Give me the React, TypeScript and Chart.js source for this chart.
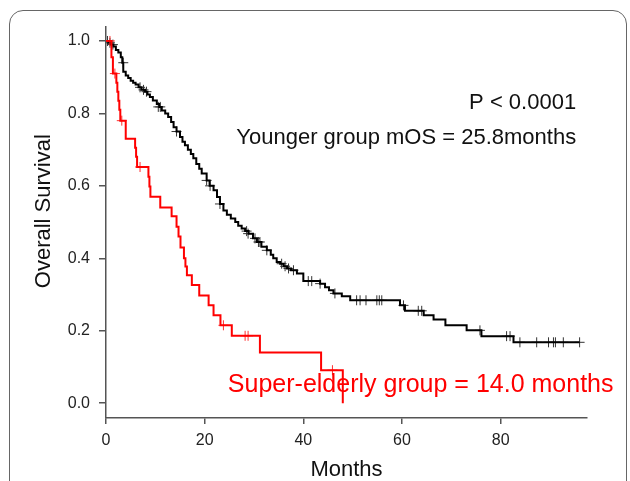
import React, { useEffect, useRef } from "react";
import { Chart, registerables } from "chart.js";

Chart.register(...registerables);

// Younger group Kaplan–Meier steps (months, survival after step)
const youngerMonths = [0, 0.5, 1.0, 1.5, 2.0, 2.5, 3.0, 3.3, 3.5, 4.0, 4.5, 5.0, 5.5, 6.0, 6.6, 7.2, 7.9, 8.4, 8.9, 9.5, 10.3, 10.8, 11.3, 12.0, 12.6, 13.2, 13.7, 14.3, 15.0, 15.5, 16.0, 16.6, 17.2, 17.7, 18.3, 18.9, 19.4, 20.4, 21.0, 21.8, 22.5, 23.1, 23.8, 24.5, 25.3, 26.2, 26.8, 27.5, 28.2, 28.9, 29.8, 30.6, 31.5, 32.6, 33.4, 33.9, 34.6, 35.3, 36.0, 36.7, 37.5, 38.7, 40.0, 43.4, 44.4, 45.2, 46.1, 47.8, 49.5, 59.6, 60.6, 64.4, 66.4, 68.8, 73.1, 76.1, 82.6, 96.0];
const youngerSurv = [1.0, 0.995, 0.99, 0.985, 0.975, 0.968, 0.955, 0.94, 0.915, 0.905, 0.898, 0.89, 0.885, 0.88, 0.872, 0.865, 0.86, 0.852, 0.845, 0.836, 0.826, 0.818, 0.808, 0.8, 0.79, 0.776, 0.762, 0.75, 0.735, 0.722, 0.712, 0.7, 0.688, 0.676, 0.66, 0.647, 0.634, 0.615, 0.6, 0.588, 0.569, 0.55, 0.532, 0.52, 0.51, 0.5, 0.49, 0.482, 0.475, 0.468, 0.455, 0.445, 0.432, 0.422, 0.41, 0.4, 0.39, 0.385, 0.378, 0.372, 0.367, 0.358, 0.337, 0.33, 0.32, 0.312, 0.303, 0.295, 0.284, 0.27, 0.255, 0.243, 0.231, 0.215, 0.201, 0.185, 0.168, 0.168];

// Younger group censor marks
const youngerCensorMonths = [0.3, 0.8, 1.4, 3.5, 6.9, 7.6, 8.2, 10.6, 11.0, 14.3, 20.4, 21.1, 23.1, 28.5, 28.8, 30.2, 30.9, 31.2, 32.6, 35.6, 36.3, 37.0, 38.0, 41.0, 41.7, 43.4, 46.4, 50.8, 51.5, 52.7, 54.9, 55.4, 55.9, 60.3, 63.3, 64.0, 75.8, 81.2, 81.9, 83.9, 87.3, 89.7, 90.7, 91.1, 92.7, 96.0];
const youngerCensorSurv = [1.0, 0.995, 0.99, 0.94, 0.872, 0.865, 0.86, 0.818, 0.818, 0.75, 0.615, 0.6, 0.55, 0.475, 0.468, 0.455, 0.445, 0.445, 0.422, 0.385, 0.378, 0.372, 0.367, 0.337, 0.337, 0.33, 0.303, 0.284, 0.284, 0.284, 0.284, 0.284, 0.284, 0.27, 0.255, 0.255, 0.201, 0.185, 0.185, 0.168, 0.168, 0.168, 0.168, 0.168, 0.168, 0.168];

// Super-elderly group Kaplan–Meier steps
const elderlyMonths = [0, 1.1, 1.4, 2.1, 2.3, 2.5, 2.7, 2.9, 4.0, 5.9, 6.1, 6.3, 8.6, 8.8, 9.0, 11.0, 13.3, 14.3, 14.7, 15.1, 15.8, 16.1, 16.4, 17.4, 18.9, 20.8, 21.8, 23.2, 25.5, 31.2, 43.6, 48.0];
const elderlySurv = [1.0, 0.955, 0.91, 0.885, 0.86, 0.835, 0.81, 0.78, 0.73, 0.705, 0.68, 0.652, 0.625, 0.598, 0.57, 0.54, 0.516, 0.487, 0.46, 0.43, 0.4, 0.377, 0.353, 0.326, 0.297, 0.27, 0.243, 0.215, 0.186, 0.14, 0.091, 0.0];

// Super-elderly censor marks
const elderlyCensorMonths = [0.8, 1.8, 3.2, 6.9, 23.8, 28.2, 28.8, 45.9];
const elderlyCensorSurv = [1.0, 0.91, 0.78, 0.652, 0.215, 0.186, 0.186, 0.091];

const xTickValues = [0, 20, 40, 60, 80];
const yTickValues = [0, 0.2, 0.4, 0.6, 0.8, 1.0];

const xTitle = "Months";
const yTitle = "Overall Survival";
const pValueText = "P < 0.0001";
const youngerText = "Younger group mOS = 25.8months";
const elderlyText = "Super-elderly group = 14.0 months";

const FONT = "'Liberation Sans', Arial, Helvetica, sans-serif";

const toPoints = (xs: number[], ys: number[]) => xs.map((x, i) => ({ x, y: ys[i] }));

const annotationPlugin = {
  id: "kmAnnotations",
  afterDatasetsDraw(chart: any) {
    const { ctx, scales } = chart;
    const xs = scales.x;
    const ys = scales.y;
    ctx.save();
    ctx.textBaseline = "middle";
    ctx.font = `22px ${FONT}`;
    ctx.fillStyle = "#111111";
    ctx.textAlign = "right";
    ctx.fillText(pValueText, xs.getPixelForValue(95.3), ys.getPixelForValue(0.828));
    ctx.fillText(youngerText, xs.getPixelForValue(95.3), ys.getPixelForValue(0.733));
    ctx.font = `25px ${FONT}`;
    ctx.fillStyle = "#ff0000";
    ctx.textAlign = "left";
    ctx.fillText(elderlyText, xs.getPixelForValue(24.7), ys.getPixelForValue(0.05));
    // y-axis title
    ctx.font = `22px ${FONT}`;
    ctx.fillStyle = "#111111";
    ctx.textAlign = "center";
    ctx.translate(44, ys.getPixelForValue(0.53));
    ctx.rotate(-Math.PI / 2);
    ctx.fillText(yTitle, 0, 0);
    ctx.restore();
  },
};

export default function App() {
  const canvasRef = useRef<HTMLCanvasElement | null>(null);

  useEffect(() => {
    const canvas = canvasRef.current;
    if (!canvas) return;
    Chart.defaults.font.family = FONT;
    const chart = new Chart(canvas, {
      type: "line",
      data: {
        datasets: [
          {
            label: "Super-elderly",
            data: toPoints(elderlyMonths, elderlySurv),
            borderColor: "#ff0000",
            borderWidth: 2,
            stepped: true,
            pointRadius: 0,
            fill: false,
          },
          {
            label: "Super-elderly censored",
            data: toPoints(elderlyCensorMonths, elderlyCensorSurv),
            showLine: false,
            pointStyle: "cross",
            pointRadius: 5,
            borderColor: "#ff3030",
            borderWidth: 1,
          },
          {
            label: "Younger",
            data: toPoints(youngerMonths, youngerSurv),
            borderColor: "#000000",
            borderWidth: 2,
            stepped: true,
            pointRadius: 0,
            fill: false,
          },
          {
            label: "Younger censored",
            data: toPoints(youngerCensorMonths, youngerCensorSurv),
            showLine: false,
            pointStyle: "cross",
            pointRadius: 5,
            borderColor: "#333333",
            borderWidth: 1,
          },
        ],
      } as any,
      options: {
        responsive: false,
        animation: false,
        events: [],
        layout: { padding: { left: 0, top: 27, right: 43, bottom: 0 } },
        plugins: {
          legend: { display: false },
          tooltip: { enabled: false },
        },
        scales: {
          x: {
            type: "linear",
            min: 0,
            max: 97.5,
            afterBuildTicks: (scale: any) => {
              scale.ticks = xTickValues.map((v) => ({ value: v }));
            },
            afterFit: (scale: any) => {
              scale.height = 63;
            },
            grid: {
              display: true,
              drawOnChartArea: false,
              drawTicks: true,
              tickLength: 6,
              color: "#555555",
              lineWidth: 1.5,
            },
            border: { display: true, color: "#555555", width: 1.5 },
            ticks: {
              padding: 7,
              color: "#222222",
              font: { size: 16, family: FONT },
              maxRotation: 0,
              callback: (v: any) => String(v),
            },
            title: {
              display: true,
              text: xTitle,
              color: "#111111",
              font: { size: 22, family: FONT, lineHeight: 1 },
              padding: { top: 0, bottom: 0 },
            },
          },
          y: {
            type: "linear",
            min: -0.041,
            max: 1.0386,
            afterBuildTicks: (scale: any) => {
              scale.ticks = yTickValues.map((v) => ({ value: v }));
            },
            afterFit: (scale: any) => {
              scale.width = 106;
            },
            grid: {
              display: true,
              drawOnChartArea: false,
              drawTicks: true,
              tickLength: 7,
              color: "#555555",
              lineWidth: 1.5,
            },
            border: { display: true, color: "#555555", width: 1.5 },
            ticks: {
              padding: 9,
              color: "#222222",
              font: { size: 16, family: FONT },
              callback: (v: any) => Number(v).toFixed(1),
            },
            title: { display: false },
          },
        },
      },
      plugins: [annotationPlugin],
    } as any);
    return () => {
      chart.destroy();
    };
  }, []);

  return (
    <div
      style={{
        position: "fixed",
        left: 0,
        top: 0,
        width: 630,
        height: 481,
        overflow: "hidden",
        background: "#ffffff",
      }}
    >
      <div
        style={{
          position: "absolute",
          left: 9,
          top: 10,
          width: 618,
          height: 520,
          border: "1.5px solid #666666",
          borderRadius: 14,
          boxSizing: "border-box",
        }}
      />
      <canvas
        ref={canvasRef}
        width={630}
        height={481}
        style={{ position: "absolute", left: 0, top: 0, width: 630, height: 481 }}
      />
    </div>
  );
}
